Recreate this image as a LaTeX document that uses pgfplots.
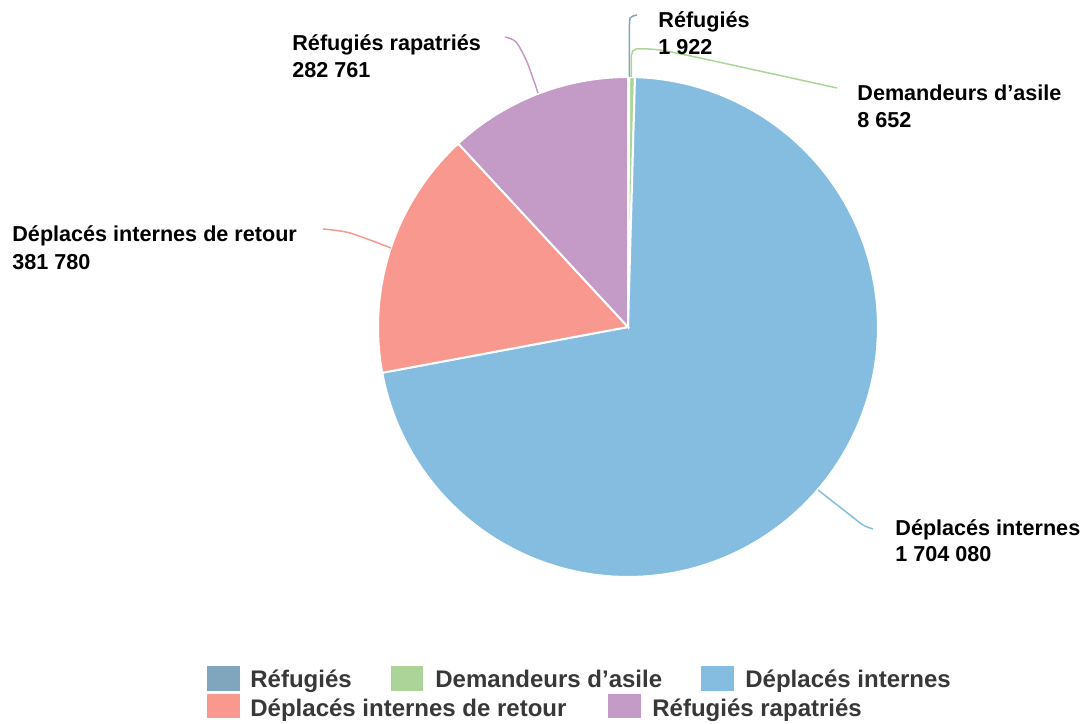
\documentclass[border=0pt]{standalone}
\usepackage{pgfplots}
\pgfplotsset{compat=1.18}
\usepackage{fontspec}
\setmainfont{Liberation Sans}
\definecolor{cA}{HTML}{80A6BE}
\definecolor{cB}{HTML}{ADD498}
\definecolor{cC}{HTML}{85BDE0}
\definecolor{cD}{HTML}{F9988F}
\definecolor{cE}{HTML}{C49AC6}
\definecolor{legtxt}{HTML}{383838}
% data
\def\vA{1922}     % Réfugiés
\def\vB{8652}     % Demandeurs d'asile
\def\vC{1704080}  % Déplacés internes
\def\vD{381780}   % Déplacés internes de retour
\def\vE{282761}   % Réfugiés rapatriés
\edef\tot{\fpeval{\vA+\vB+\vC+\vD+\vE}}
\edef\aA{90}
\edef\aB{\fpeval{\aA-360*\vA/\tot}}
\edef\aC{\fpeval{\aB-360*\vB/\tot}}
\edef\aD{\fpeval{\aC-360*\vC/\tot}}
\edef\aE{\fpeval{\aD-360*\vD/\tot}}
\edef\aF{\fpeval{\aE-360*\vE/\tot}}
\def\cx{628}\def\cy{396}\def\rr{250}
\begin{document}
\begin{tikzpicture}
\begin{axis}[width=543.5pt,height=361.5pt,scale only axis,
  xmin=0,xmax=1087,ymin=0,ymax=723,hide axis,clip=false]
\coordinate (bl) at (axis cs:0,0);
\coordinate (tr) at (axis cs:1087,723);
\pgfplotsset{slice/.style={draw=white,line width=1pt,samples=120,variable=\t}}
\addplot[slice,fill=cA,domain=\aB:\aA,samples=2] ({\cx+\rr*cos(t)},{\cy+\rr*sin(t)}) -- (axis cs:\cx,\cy) -- cycle;
\addplot[slice,fill=cB,domain=\aC:\aB,samples=3] ({\cx+\rr*cos(t)},{\cy+\rr*sin(t)}) -- (axis cs:\cx,\cy) -- cycle;
\addplot[slice,fill=cC,domain=\aD:\aC] ({\cx+\rr*cos(t)},{\cy+\rr*sin(t)}) -- (axis cs:\cx,\cy) -- cycle;
\addplot[slice,fill=cD,domain=\aE:\aD,samples=40] ({\cx+\rr*cos(t)},{\cy+\rr*sin(t)}) -- (axis cs:\cx,\cy) -- cycle;
\addplot[slice,fill=cE,domain=\aF:\aE,samples=40] ({\cx+\rr*cos(t)},{\cy+\rr*sin(t)}) -- (axis cs:\cx,\cy) -- cycle;
% leader lines
\addplot[cA,line width=0.75pt,smooth,tension=0.5] coordinates {(629.5,646) (629.5,699) (631.5,706) (637,708)};
\addplot[cB,line width=0.75pt,smooth,tension=0.4] coordinates {(631.5,646) (631.5,668) (636,674) (660,673) (700,665) (837,635)};
\addplot[cE,line width=0.75pt,smooth,tension=0.5] coordinates {(505,686) (516,681) (527,661) (538,630)};
\addplot[cD,line width=0.75pt,smooth,tension=0.5] coordinates {(323,494) (350,490) (391,475)};
\addplot[cC,line width=0.75pt,smooth,tension=0.5] coordinates {(818,233) (850,208) (863,198) (873,194)};
% labels
\tikzset{lab/.style={anchor=base west,inner sep=0pt,font=\fontsize{10.8pt}{13pt}\selectfont\bfseries}}
\node[lab] at (axis cs:658,695) {Réfugiés};
\node[lab] at (axis cs:658,668) {1 922};
\node[lab] at (axis cs:857,622) {Demandeurs d’asile};
\node[lab] at (axis cs:857,595) {8 652};
\node[lab] at (axis cs:292,672) {Réfugiés rapatriés};
\node[lab] at (axis cs:292,645) {282 761};
\node[lab] at (axis cs:12,481) {Déplacés internes de retour};
\node[lab] at (axis cs:12,453) {381 780};
\node[lab] at (axis cs:895,188) {Déplacés internes};
\node[lab] at (axis cs:895,162) {1 704 080};
% legend
\addplot[fill=cA,draw=none] coordinates {(207,57) (240,57) (240,32) (207,32)} -- cycle;
\addplot[fill=cB,draw=none] coordinates {(391,57) (423,57) (423,32) (391,32)} -- cycle;
\addplot[fill=cC,draw=none] coordinates {(701,57) (734,57) (734,32) (701,32)} -- cycle;
\addplot[fill=cD,draw=none] coordinates {(207,29) (240,29) (240,5) (207,5)} -- cycle;
\addplot[fill=cE,draw=none] coordinates {(608,29) (641,29) (641,5) (608,5)} -- cycle;
\tikzset{leg/.style={anchor=base west,inner sep=0pt,text=legtxt,font=\fontsize{12pt}{14pt}\selectfont\bfseries}}
\node[leg] at (axis cs:250,36) {Réfugiés};
\node[leg] at (axis cs:435,36) {Demandeurs d’asile};
\node[leg] at (axis cs:745,36) {Déplacés internes};
\node[leg] at (axis cs:250,7) {Déplacés internes de retour};
\node[leg] at (axis cs:652,7) {Réfugiés rapatriés};
\end{axis}
\pgfresetboundingbox
\path[use as bounding box] (bl) rectangle (tr);
\end{tikzpicture}
\end{document}
